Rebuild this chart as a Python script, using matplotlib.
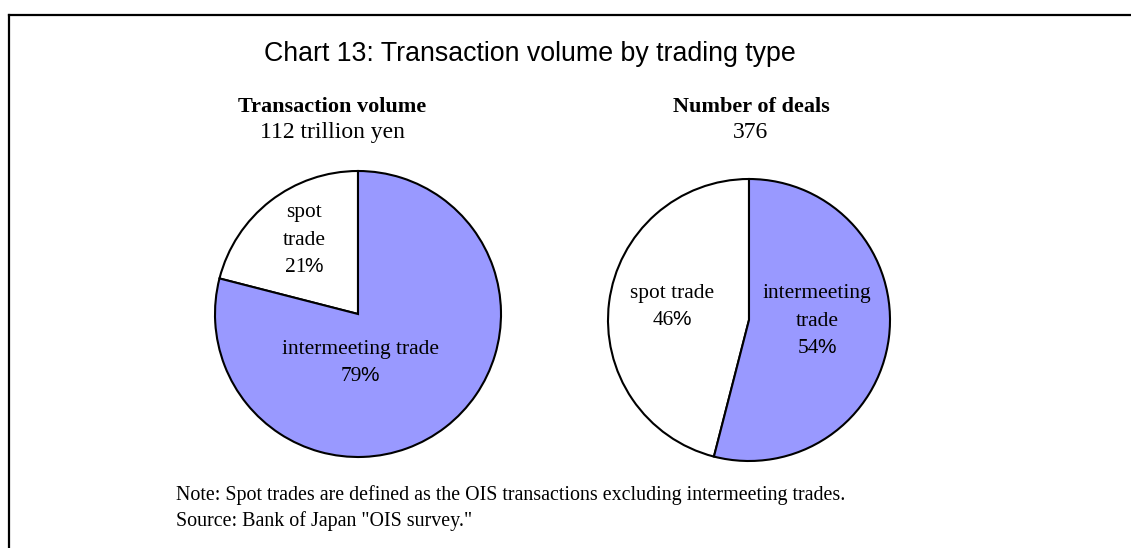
import matplotlib
matplotlib.use("Agg")
import matplotlib.pyplot as plt
from matplotlib.lines import Line2D

W, H = 1131, 548
DPI = 100

# ---- data ----
title = "Chart 13: Transaction volume by trading type"
pie_titles = ["Transaction volume", "Number of deals"]
pie_subtitles = ["112 trillion yen", "376"]
categories = ["spot trade", "intermeeting trade"]
volume_share = [21, 79]
deals_share = [46, 54]
colors = ["#FFFFFF", "#9999FF"]
note_lines = [
    "Note: Spot trades are defined as the OIS transactions excluding intermeeting trades.",
    "Source: Bank of Japan \"OIS survey.\"",
]

SERIF = "Liberation Serif"
SANS = "Liberation Sans"
LABEL_FS = 15.4

fig = plt.figure(figsize=(W / DPI, H / DPI), dpi=DPI)
fig.patch.set_facecolor("white")
renderer = fig.canvas.get_renderer()


def fx(px):
    return px / W


def fy(py):
    return 1 - py / H


# border (left and top only visible)
fig.add_artist(Line2D([fx(9), fx(9)], [fy(15), fy(560)], color="black", lw=1.6,
                      transform=fig.transFigure))
fig.add_artist(Line2D([fx(9), fx(1140)], [fy(15), fy(15)], color="black", lw=1.6,
                      transform=fig.transFigure))

fig.text(fx(530), fy(61), title, family=SANS, fontsize=19.3, ha="center",
         va="baseline")


def pct_line(cx, base, value):
    """Draw '<value>%' centred at cx with the number in serif and % in sans."""
    gap = -1.5
    t1 = fig.text(0, fy(base), f"{value}", family=SERIF, fontsize=LABEL_FS,
                  ha="left", va="baseline")
    t2 = fig.text(0, fy(base), "%", family=SANS, fontsize=LABEL_FS * 0.97,
                  ha="left", va="baseline")
    w1 = t1.get_window_extent(renderer).width
    w2 = t2.get_window_extent(renderer).width
    x0 = cx - (w1 + w2 + gap) / 2
    t1.set_x(fx(x0))
    t2.set_x(fx(x0 + w1 + gap))


def make_pie(cx, cy, r, values, label_specs, head, sub, head_x):
    ax = fig.add_axes([fx(cx - r), fy(cy + r), (2 * r) / W, (2 * r) / H])
    ax.pie(values, colors=colors, startangle=90, counterclock=True,
           radius=1.0, wedgeprops=dict(edgecolor="black", linewidth=1.5))
    ax.set_xlim(-1.0, 1.0)
    ax.set_ylim(-1.0, 1.0)
    ax.axis("off")
    fig.text(fx(head_x), fy(112), head, family=SERIF, fontweight="bold",
             fontsize=16, ha="center", va="baseline")
    fig.text(fx(head_x), fy(138), sub, family=SERIF, fontsize=17,
             ha="center", va="baseline")
    for (lines, value, lx, bases) in label_specs:
        for line, b in zip(lines, bases[:-1]):
            fig.text(fx(lx), fy(b), line, family=SERIF, fontsize=LABEL_FS,
                     ha="center", va="baseline")
        pct_line(lx, bases[-1], value)


make_pie(358, 314, 143, volume_share,
         [(["spot", "trade"], volume_share[0], 304, [217, 245, 272]),
          (["intermeeting trade"], volume_share[1], 360, [354, 381])],
         pie_titles[0], pie_subtitles[0], 332)

make_pie(749, 320, 141, deals_share,
         [(["spot trade"], deals_share[0], 672, [298, 325]),
          (["intermeeting", "trade"], deals_share[1], 817, [298, 326, 353])],
         pie_titles[1], pie_subtitles[1], 751)

for i, line in enumerate(note_lines):
    fig.text(fx(176), fy(500 + 26 * i), line, family=SERIF, fontsize=14.4,
             ha="left", va="baseline")

fig.savefig("out.png", dpi=DPI, facecolor="white")
